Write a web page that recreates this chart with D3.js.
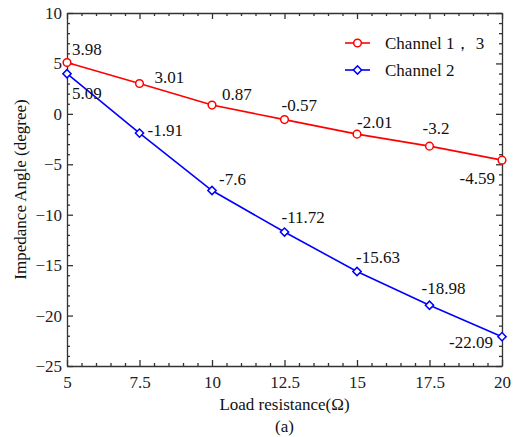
<!DOCTYPE html>
<html>
<head>
<meta charset="utf-8">
<script src="https://cdn.jsdelivr.net/npm/d3@7"></script>
<style>
  body { margin: 0; background: #fff; }
</style>
</head>
<body>
<div id="chart"></div>
<script>
// data
const loads = [5, 7.5, 10, 12.5, 15, 17.5, 20];
const ch13 = [5.09, 3.01, 0.87, -0.57, -2.01, -3.2, -4.59];
const ch2 = [3.98, -1.91, -7.6, -11.72, -15.63, -18.98, -22.09];
// annotation texts as printed on the figure
const ch13Labels = ["3.98", "3.01", "0.87", "-0.57", "-2.01", "-3.2", "-4.59"];
const ch2Labels = ["5.09", "-1.91", "-7.6", "-11.72", "-15.63", "-18.98", "-22.09"];
const xTicks = [5, 7.5, 10, 12.5, 15, 17.5, 20];
const yTicks = [-25, -20, -15, -10, -5, 0, 5, 10];

// label offsets (px) relative to each point
const ch13Off = [[5, -8, "start"], [15, 0, "start"], [10, -5, "start"], [-3, -9, "start"], [0, -6, "start"], [-7, -12, "start"], [-7, 24, "end"]];
const ch2Off = [[5, 25, "start"], [8, 3, "start"], [7, -6, "start"], [-3, -9, "start"], [-1, -8, "start"], [-8, -11, "start"], [-9, 11, "end"]];

const W = 522, H = 437;
const margin = { top: 13, right: 20, bottom: 71, left: 67 };
const width = W - margin.left - margin.right;
const height = H - margin.top - margin.bottom;
const axisColor = "#333";
const FONT = "Liberation Serif";
const FS = "17px";

let svg = d3.select("#chart").append("svg").attr("width", W).attr("height", H);
let g = svg.append("g").attr("transform", "translate(" + margin.left + "," + margin.top + ")");

let x = d3.scaleLinear().domain([5, 20]).range([0, width]);
let y = d3.scaleLinear().domain([-25, 10]).range([height, 0]);

const xMinor = d3.range(5, 20.01, 0.5).filter(v => !xTicks.includes(v));
const yMinor = d3.range(-25, 10.01, 1).filter(v => !yTicks.includes(v));

function styleAxis(sel) {
  sel.attr("font-family", FONT);
  sel.selectAll("path,line").attr("stroke", axisColor).attr("stroke-width", 1.3);
  sel.selectAll("text").attr("fill", "#222").style("font-size", FS).style("font-family", FONT);
}

// bottom
g.append("g").attr("transform", "translate(0," + height + ")")
  .call(d3.axisBottom(x).tickValues(xTicks).tickFormat(d3.format("")).tickSizeInner(-6).tickSizeOuter(0).tickPadding(13))
  .call(styleAxis).call(s => s.selectAll("text").attr("dy", "0.5em"));
g.append("g").attr("transform", "translate(0," + height + ")")
  .call(d3.axisBottom(x).tickValues(xMinor).tickFormat("").tickSizeInner(-3).tickSizeOuter(0))
  .call(styleAxis).call(s => s.select(".domain").remove());
// top
g.append("g").call(d3.axisTop(x).tickValues(xTicks).tickFormat("").tickSizeInner(-6).tickSizeOuter(0)).call(styleAxis);
g.append("g").call(d3.axisTop(x).tickValues(xMinor).tickFormat("").tickSizeInner(-3).tickSizeOuter(0))
  .call(styleAxis).call(s => s.select(".domain").remove());
// left
g.append("g").call(d3.axisLeft(y).tickValues(yTicks).tickSizeInner(-6).tickSizeOuter(0).tickPadding(5)).call(styleAxis);
g.append("g").call(d3.axisLeft(y).tickValues(yMinor).tickFormat("").tickSizeInner(-3).tickSizeOuter(0))
  .call(styleAxis).call(s => s.select(".domain").remove());
// right
g.append("g").attr("transform", "translate(" + width + ",0)")
  .call(d3.axisRight(y).tickValues(yTicks).tickFormat("").tickSizeInner(-6).tickSizeOuter(0)).call(styleAxis);
g.append("g").attr("transform", "translate(" + width + ",0)")
  .call(d3.axisRight(y).tickValues(yMinor).tickFormat("").tickSizeInner(-3).tickSizeOuter(0))
  .call(styleAxis).call(s => s.select(".domain").remove());

const series = [
  { name: "Channel 1\uFF0C 3", values: ch13, labels: ch13Labels, off: ch13Off, color: "#ff0000", symbol: d3.symbolCircle, size: 46, rot: 0 },
  { name: "Channel 2", values: ch2, labels: ch2Labels, off: ch2Off, color: "#0000ff", symbol: d3.symbolSquare, size: 34, rot: 45 }
];

let line = d3.line().x((d, i) => x(loads[i])).y(d => y(d));

series.forEach(function (s) {
  g.append("path").datum(s.values)
    .attr("fill", "none").attr("stroke", s.color).attr("stroke-width", 1.6).attr("d", line);
  g.selectAll(null).data(s.values).enter().append("path")
    .attr("d", d3.symbol().type(s.symbol).size(s.size))
    .attr("transform", (d, i) => "translate(" + x(loads[i]) + "," + y(d) + ") rotate(" + s.rot + ")")
    .attr("fill", "#fff").attr("stroke", s.color).attr("stroke-width", 1.5);
  g.selectAll(null).data(s.values).enter().append("text")
    .attr("x", (d, i) => x(loads[i]) + s.off[i][0])
    .attr("y", (d, i) => y(d) + s.off[i][1])
    .attr("text-anchor", (d, i) => s.off[i][2])
    .style("font-family", FONT).style("font-size", FS).attr("fill", "#111")
    .text((d, i) => s.labels[i]);
});

// legend
let legend = g.append("g").attr("transform", "translate(278,30)");
series.forEach(function (s, i) {
  let row = legend.append("g").attr("transform", "translate(0," + (i * 27) + ")");
  row.append("line").attr("x1", 0).attr("x2", 25).attr("stroke", s.color).attr("stroke-width", 1.6);
  row.append("path").attr("d", d3.symbol().type(s.symbol).size(s.size))
    .attr("transform", "translate(12.5,0) rotate(" + s.rot + ")")
    .attr("fill", "#fff").attr("stroke", s.color).attr("stroke-width", 1.5);
  row.append("text").attr("x", 40).attr("dy", "0.35em")
    .style("font-family", FONT).style("font-size", FS).attr("fill", "#111").text(s.name);
});

// axis titles
svg.append("text").attr("x", margin.left + width / 2).attr("y", 410).attr("text-anchor", "middle")
  .style("font-family", FONT).style("font-size", FS).attr("fill", "#111").text("Load resistance(\u03A9)");
svg.append("text").attr("x", margin.left + width / 2).attr("y", 432).attr("text-anchor", "middle")
  .style("font-family", FONT).style("font-size", FS).attr("fill", "#111").text("(a)");
svg.append("text").attr("transform", "translate(26," + (margin.top + height / 2) + ") rotate(-90)")
  .attr("text-anchor", "middle").style("font-family", FONT).style("font-size", FS).attr("fill", "#111")
  .text("Impedance Angle (degree)");
</script>
</body>
</html>
